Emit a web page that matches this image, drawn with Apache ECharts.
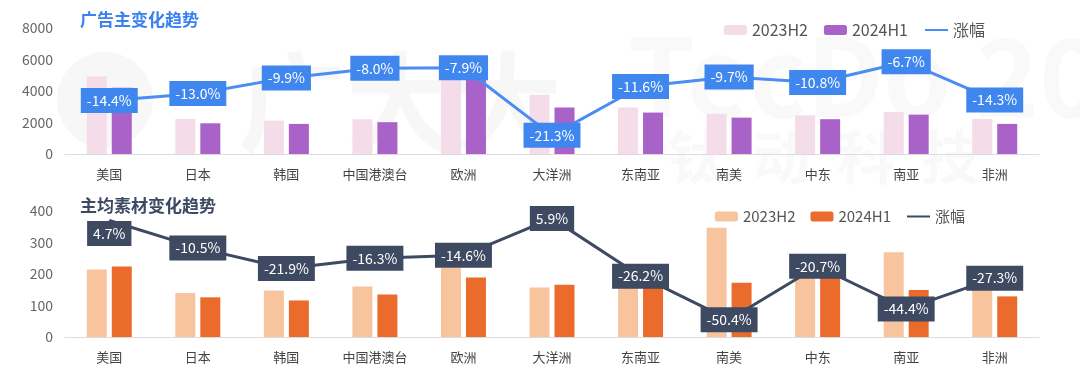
<!DOCTYPE html>
<html>
<head>
<meta charset="utf-8">
<title>广告主与主均素材变化趋势</title>
<script src="https://cdn.jsdelivr.net/npm/echarts@6/dist/echarts.min.js"></script>
<style>
	html, body { margin: 0; padding: 0; background: #fff; }
	#chart { width: 1080px; height: 376px; }
</style>
</head>
<body>
<div id="chart"></div>
<script>
'use strict';

// 地区
var regions = ['美国', '日本', '韩国', '中国港澳台', '欧洲', '大洋洲', '东南亚', '南美', '中东', '南亚', '非洲'];

// 广告主
var adv2023H2 = [4920, 2230, 2120, 2210, 5920, 3760, 2950, 2550, 2460, 2670, 2230];
var adv2024H1 = [4210, 1950, 1910, 2020, 5450, 2950, 2630, 2310, 2210, 2500, 1910];
var advRate = [-14.4, -13.0, -9.9, -8.0, -7.9, -21.3, -11.6, -9.7, -10.8, -6.7, -14.3];

// 主均素材
var mat2023H2 = [214, 140, 148, 160, 221, 157, 217, 347, 240, 269, 178];
var mat2024H1 = [224, 126, 116, 135, 189, 166, 160, 172, 190, 149, 129];
var matRate = [4.7, -10.5, -21.9, -16.3, -14.6, 5.9, -26.2, -50.4, -20.7, -44.4, -27.3];

var advTicks = { min: 0, max: 8000, interval: 2000 };
var matTicks = { min: 0, max: 400, interval: 100 };

var FONT = '"Noto Sans CJK SC", "Noto Sans", sans-serif';

var chart = echarts.init(document.getElementById('chart'));

//x轴
var makeX = function (gridIndex) {
	return {
		type: 'category',
		gridIndex: gridIndex,
		data: regions,
		axisTick: { show: false },
		axisLine: { lineStyle: { color: '#dcdcdc', width: 1 } },
		axisLabel: { color: '#444', fontSize: 13, margin: 14, fontFamily: FONT }
	};
};

//y轴
var makeY = function (gridIndex, ticks) {
	return {
		type: 'value',
		gridIndex: gridIndex,
		min: ticks.min,
		max: ticks.max,
		interval: ticks.interval,
		axisLine: { show: false },
		axisTick: { show: false },
		splitLine: { show: false },
		axisLabel: {
			color: '#666', fontSize: 14, margin: 12, fontFamily: FONT,
			formatter: function (v) { return String(v); }
		}
	};
};

var makeLabel = function (bg) {
	return {
		show: true,
		position: 'inside',
		color: '#fff',
		fontSize: 14,
		fontFamily: FONT,
		backgroundColor: bg,
		padding: [6, 6, 5, 6],
		formatter: function (p) {
			return Number(p.value).toFixed(1) + '%';
		}
	};
};

var legendFmt = function (name) {
	return name.split('|')[0];
};

// 第一个点的标签往下挪一点，避免压住标题
var matRateData = matRate.map(function (v, i) {
	if (i === 0) {
		return { value: v, label: { offset: [0, 13] } };
	}
	return v;
});

chart.setOption({
	animation: false,
	textStyle: { fontFamily: FONT },
	graphic: [
		{ type: 'text', left: 238, top: 48, z: -10, style: { text: '广大大', fontSize: 108, fontWeight: 'bold', fill: 'rgba(0,0,0,0.03)', fontFamily: FONT } },
		{ type: 'circle', shape: { cx: 105, cy: 100, r: 48 }, z: -10, style: { fill: 'rgba(0,0,0,0.03)' } },
		{ type: 'text', left: 628, top: 22, z: -10, style: { text: 'TecDo 2024', fontSize: 108, fontWeight: 'bold', fill: 'rgba(0,0,0,0.022)', fontFamily: FONT } },
		{ type: 'text', left: 668, top: 128, z: -10, style: { text: '钛  动  科  技', fontSize: 58, fontWeight: 'bold', fill: 'rgba(0,0,0,0.025)', fontFamily: FONT } },
		{ type: 'text', left: 80, top: 11, style: { text: '广告主变化趋势', fontSize: 17, fontWeight: 'bold', fill: '#3b82f0', fontFamily: FONT } },
		{ type: 'text', left: 80, top: 197, style: { text: '主均素材变化趋势', fontSize: 17, fontWeight: 'bold', fill: '#3d4a63', fontFamily: FONT } }
	],
	legend: [
		{
			top: 17, right: 90, itemWidth: 23, itemHeight: 10, itemGap: 16,
			textStyle: { color: '#555', fontSize: 16, fontFamily: FONT },
			formatter: legendFmt,
			data: ['2023H2|a', '2024H1|a', { name: '涨幅|a', itemStyle: { opacity: 0 } }]
		},
		{
			top: 204, right: 110, itemWidth: 23, itemHeight: 10, itemGap: 15,
			textStyle: { color: '#555', fontSize: 15, fontFamily: FONT },
			formatter: legendFmt,
			data: ['2023H2|b', '2024H1|b', { name: '涨幅|b', itemStyle: { opacity: 0 } }]
		}
	],
	grid: [
		{ left: 65, right: 41, top: 28, height: 126 },
		{ left: 65, right: 41, top: 211, height: 126 }
	],
	xAxis: [makeX(0), makeX(1)],
	yAxis: [
		makeY(0, advTicks),
		{ type: 'value', gridIndex: 0, min: -25, max: 0, show: false },
		makeY(1, matTicks),
		{ type: 'value', gridIndex: 1, min: -60, max: 10, show: false }
	],
	series: [
		{
			name: '2023H2|a', type: 'bar', xAxisIndex: 0, yAxisIndex: 0,
			barWidth: 20, barGap: '25%',
			itemStyle: { color: '#f4dce8' },
			data: adv2023H2
		},
		{
			name: '2024H1|a', type: 'bar', xAxisIndex: 0, yAxisIndex: 0,
			barWidth: 20, barGap: '25%',
			itemStyle: { color: '#a862c8' },
			data: adv2024H1
		},
		{
			name: '涨幅|a', type: 'line', xAxisIndex: 0, yAxisIndex: 1,
			symbol: 'circle', symbolSize: 1, z: 5,
			lineStyle: { color: '#4a8ef2', width: 3 },
			itemStyle: { color: '#4a8ef2' },
			label: makeLabel('#3f87ee'),
			data: advRate
		},
		{
			name: '2023H2|b', type: 'bar', xAxisIndex: 1, yAxisIndex: 2,
			barWidth: 20, barGap: '25%',
			itemStyle: { color: '#f7c49e' },
			data: mat2023H2
		},
		{
			name: '2024H1|b', type: 'bar', xAxisIndex: 1, yAxisIndex: 2,
			barWidth: 20, barGap: '25%',
			itemStyle: { color: '#ea6b2b' },
			data: mat2024H1
		},
		{
			name: '涨幅|b', type: 'line', xAxisIndex: 1, yAxisIndex: 3,
			symbol: 'circle', symbolSize: 1, z: 5,
			lineStyle: { color: '#3e4a61', width: 3 },
			itemStyle: { color: '#3e4a61' },
			label: makeLabel('#3e4a61'),
			data: matRateData
		}
	]
});
</script>
</body>
</html>
